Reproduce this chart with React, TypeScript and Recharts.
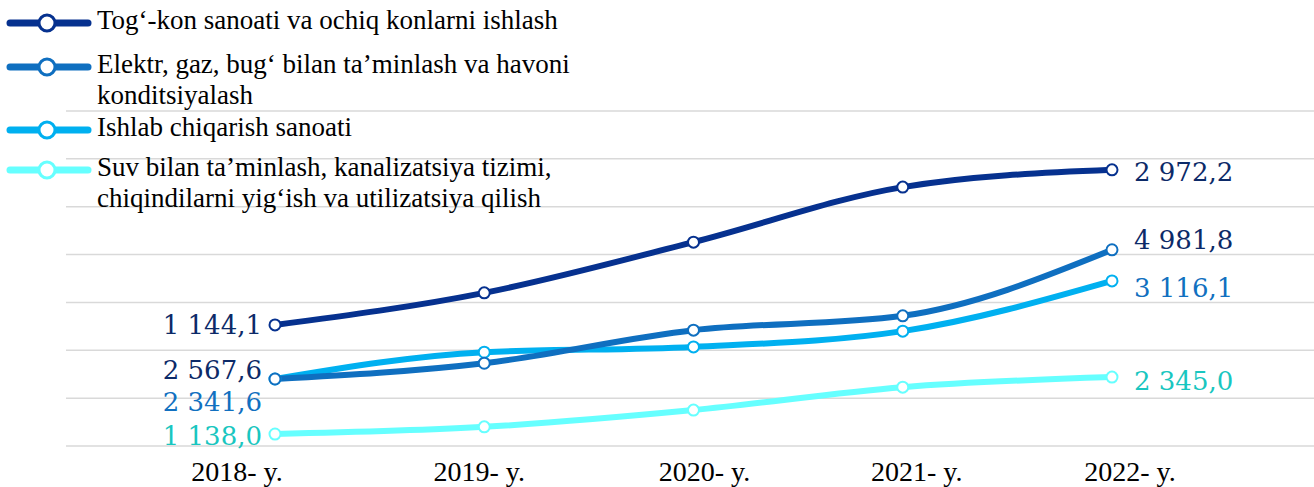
import React from 'react';
import { LineChart, Line, XAxis, YAxis, CartesianGrid, LabelList } from 'recharts';

const years = ['2018- y.', '2019- y.', '2020- y.', '2021- y.', '2022- y.'];

// plotted positions (hidden axis 0..7)
const togKon = [2.53, 3.2, 4.26, 5.41, 5.77];
const elektr = [1.4, 1.73, 2.42, 2.72, 4.1];
const ishlab = [1.4, 1.96, 2.07, 2.4, 3.45];
const suv = [0.25, 0.4, 0.75, 1.23, 1.44];

const startLabels = ['1 144,1', '2 567,6', '2 341,6', '1 138,0'];
const endLabels = ['2 972,2', '4 981,8', '3 116,1', '2 345,0'];

const seriesNames = [
  ['Tog‘-kon sanoati va ochiq konlarni ishlash'],
  ['Elektr, gaz, bug‘ bilan ta’minlash va havoni', 'konditsiyalash'],
  ['Ishlab chiqarish sanoati'],
  ['Suv bilan ta’minlash, kanalizatsiya tizimi,', 'chiqindilarni yig‘ish va utilizatsiya qilish'],
];

const keys = ['s1', 's2', 's3', 's4'];
const colors = ['#06318f', '#0f6fc0', '#00b0f0', '#66ffff'];
const labelColors = ['#0c2a68', '#0c2a68', '#1170c0', '#19c6c0'];

const data = years.map((year, i) => ({
  year,
  s1: togKon[i],
  s2: elektr[i],
  s3: ishlab[i],
  s4: suv[i],
}));

// small nudges so labels don't collide (same as the original layout)
const startDy = [0, -9, 23, 2];
const endDy = [2, -10, 7, 4];
const tickShift = [-38, -5, 11, 14, 18];
const legendTops = [5, 49, 112, 152];

const numFont = "'DejaVu Serif', serif";
const textFont = "'Liberation Serif', 'Times New Roman', serif";

function makeLabel(s: number) {
  return (props: any) => {
    const { x, y, index } = props;
    if (index === 0) {
      return (
        <text x={x - 13} y={y + startDy[s]} textAnchor="end" dominantBaseline="central"
          fontFamily={numFont} fontSize={26} fill={labelColors[s]}>
          {startLabels[s]}
        </text>
      );
    }
    if (index === years.length - 1) {
      return (
        <text x={x + 22} y={y + endDy[s]} textAnchor="start" dominantBaseline="central"
          fontFamily={numFont} fontSize={26} fill={labelColors[s]}>
          {endLabels[s]}
        </text>
      );
    }
    return null;
  };
}

function YearTick(props: any) {
  const { x, y, payload, index } = props;
  return (
    <text x={x + tickShift[index]} y={y + 17} textAnchor="middle" dominantBaseline="central"
      fontFamily={textFont} fontSize={28} fill="#000">
      {payload.value}
    </text>
  );
}

function LegendBox() {
  return (
    <div style={{ position: 'absolute', left: 0, top: 0 }}>
      {seriesNames.map((lines, i) => (
        <div key={i} style={{ position: 'absolute', left: 0, top: legendTops[i], whiteSpace: 'nowrap' }}>
          <svg width={92} height={30} style={{ position: 'absolute', left: 0, top: 3 }}>
            <line x1={10} y1={15} x2={88} y2={15} stroke={colors[i]} strokeWidth={7} strokeLinecap="round" />
            <circle cx={47} cy={15} r={8} fill="#fff" stroke={colors[i]} strokeWidth={3} />
          </svg>
          <div style={{ position: 'absolute', left: 97, top: 0, fontFamily: textFont, fontSize: 27, lineHeight: '31px', color: '#000' }}>
            {lines.map((l, j) => (
              <div key={j}>{l}</div>
            ))}
          </div>
        </div>
      ))}
    </div>
  );
}

export default function App() {
  const order = [3, 2, 1, 0];
  return (
    <div style={{ position: 'absolute', left: 0, top: 0, width: 1314, height: 487, background: '#fff' }}>
      <LineChart width={1314} height={487} data={data} margin={{ top: 111, right: 0, left: 66, bottom: 0 }}>
        <CartesianGrid vertical={false} stroke="#d9d9d9" strokeWidth={1.5} />
        <XAxis dataKey="year" height={41} axisLine={false} tickLine={false}
          padding={{ left: 209, right: 202 }} tick={<YearTick />} interval={0} />
        <YAxis hide domain={[0, 7]} ticks={[0, 1, 2, 3, 4, 5, 6, 7]} />
        {order.map((s) => (
          <Line key={keys[s]} dataKey={keys[s]} type="monotone" stroke={colors[s]} strokeWidth={6}
            dot={{ r: 5.5, fill: '#fff', stroke: colors[s], strokeWidth: 2 }}
            activeDot={false} isAnimationActive={false}>
            <LabelList dataKey={keys[s]} content={makeLabel(s)} />
          </Line>
        ))}
      </LineChart>
      <LegendBox />
    </div>
  );
}
